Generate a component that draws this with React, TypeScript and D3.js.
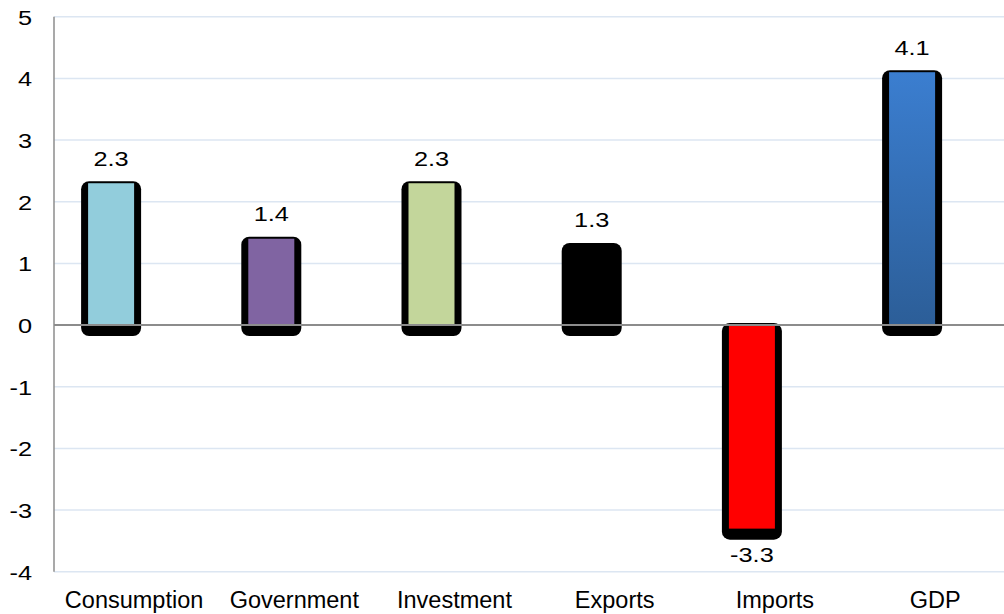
import React from "react";
import * as d3 from "d3";

const categories = ["Consumption", "Government", "Investment", "Exports", "Imports", "GDP"];
const values = [2.3, 1.4, 2.3, 1.3, -3.3, 4.1];
const colors = ["#92CDDC", "#8064A2", "#C3D69B", "#000000", "#FF0000", "url(#gdpGrad)"];
const yTicks = [-4, -3, -2, -1, 0, 1, 2, 3, 4, 5];

const W = 1004;
const H = 614;
const left = 54;
const bandStep = 160.2;
const font = "'Liberation Sans', Arial, Helvetica, sans-serif";

export default function App() {
  const x = d3
    .scaleBand<string>()
    .domain(categories)
    .range([left, left + bandStep * categories.length])
    .paddingInner(0)
    .paddingOuter(0);
  const y = d3.scaleLinear().domain([-4, 5]).range([571.8, 16.7]);
  const barW = 46;
  const y0 = y(0);

  return (
    <svg
      width={W}
      height={H}
      style={{ position: "absolute", left: 0, top: 0, background: "#fff" }}
      fontFamily={font}
    >
      <defs>
        <linearGradient id="gdpGrad" x1="0" y1="0" x2="0" y2="1">
          <stop offset="0%" stopColor="#3B7ED0" />
          <stop offset="100%" stopColor="#2C5E98" />
        </linearGradient>
      </defs>
      <rect x={0} y={0} width={W} height={H} fill="#fff" />
      {yTicks.map((t) =>
        t === 0 ? null : (
          <line
            key={"g" + t}
            x1={left}
            x2={W}
            y1={y(t)}
            y2={y(t)}
            stroke="#DCE6F2"
            strokeWidth={1.5}
          />
        )
      )}
      {yTicks.map((t) => (
        <text
          key={"t" + t}
          transform={`translate(32,${y(t) + 8}) scale(1.3,1)`}
          textAnchor="end"
          fontSize={19.5}
          fill="#000"
        >
          {String(t)}
        </text>
      ))}
      <line x1={left} x2={left} y1={y(5)} y2={y(-4)} stroke="#8c8c8c" strokeWidth={1.5} />
      {categories.map((c, i) => {
        const v = values[i];
        const cx = (x(c) as number) + x.bandwidth() / 2;
        const bx = cx - barW;
        const top = Math.min(y(v), y0);
        const bot = Math.max(y(v), y0);
        return (
          <rect
            key={"s" + c}
            x={bx - 7}
            y={top - 2}
            width={barW + 14}
            height={bot - top + 13}
            rx={8}
            ry={8}
            fill="#000"
          />
        );
      })}
      {categories.map((c, i) => {
        const v = values[i];
        const cx = (x(c) as number) + x.bandwidth() / 2;
        const bx = cx - barW;
        const top = Math.min(y(v), y0);
        const bot = Math.max(y(v), y0);
        return <rect key={"b" + c} x={bx} y={top} width={barW} height={bot - top} fill={colors[i]} />;
      })}
      <line x1={left} x2={W} y1={y0} y2={y0} stroke="#8c8c8c" strokeWidth={2} />
      {categories.map((c, i) => {
        const v = values[i];
        const cx = (x(c) as number) + x.bandwidth() / 2;
        const lx = cx - barW / 2;
        const ly = v >= 0 ? y(v) - 17.5 : y(v) + 33.5;
        return (
          <text
            key={"l" + c}
            transform={`translate(${lx},${ly}) scale(1.3,1)`}
            textAnchor="middle"
            fontSize={19.5}
            fill="#000"
          >
            {v.toFixed(1)}
          </text>
        );
      })}
      {categories.map((c) => {
        const cx = (x(c) as number) + x.bandwidth() / 2;
        return (
          <text key={"c" + c} x={cx} y={608} textAnchor="middle" fontSize={23.5} fill="#000">
            {c}
          </text>
        );
      })}
    </svg>
  );
}
